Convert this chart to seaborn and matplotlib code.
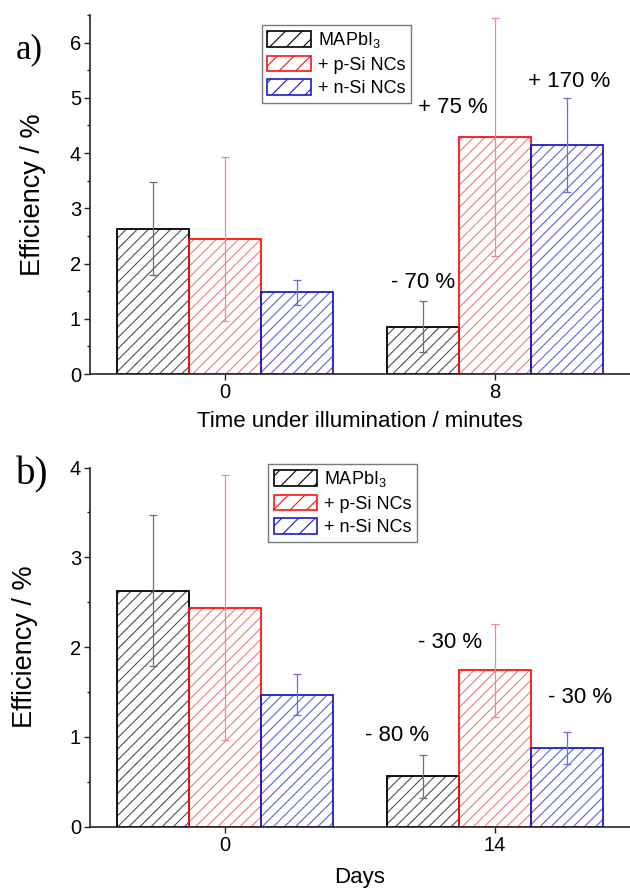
import matplotlib
matplotlib.use("Agg")
import matplotlib.pyplot as plt
import matplotlib.patches as mpatches
from matplotlib.ticker import MultipleLocator
import seaborn as sns
import pandas as pd

# ---- data -------------------------------------------------------------
series = ["MAPbI$_3$", "+ p-Si NCs", "+ n-Si NCs"]

illum_minutes = ["0", "8"]
illum_eff = {
    "MAPbI$_3$": [2.63, 0.86],
    "+ p-Si NCs": [2.44, 4.29],
    "+ n-Si NCs": [1.48, 4.14],
}
illum_err = {
    "MAPbI$_3$": [0.84, 0.47],
    "+ p-Si NCs": [1.48, 2.15],
    "+ n-Si NCs": [0.23, 0.85],
}
illum_notes = ["- 70 %", "+ 75 %", "+ 170 %"]

age_days = ["0", "14"]
age_eff = {
    "MAPbI$_3$": [2.63, 0.56],
    "+ p-Si NCs": [2.44, 1.74],
    "+ n-Si NCs": [1.47, 0.88],
}
age_err = {
    "MAPbI$_3$": [0.84, 0.24],
    "+ p-Si NCs": [1.48, 0.52],
    "+ n-Si NCs": [0.23, 0.18],
}
age_notes = ["- 80 %", "- 30 %", "- 30 %"]

# ---- style ------------------------------------------------------------
edge_colors = {"MAPbI$_3$": "#000000", "+ p-Si NCs": "#ff1010", "+ n-Si NCs": "#1c1cc8"}
hatch_colors = {"MAPbI$_3$": "#505050", "+ p-Si NCs": "#ee7a7a", "+ n-Si NCs": "#6060da"}
err_colors = {"MAPbI$_3$": "#6e6e6e", "+ p-Si NCs": "#f28a8a", "+ n-Si NCs": "#6a6ae4"}

sns.set_theme(style="ticks")
plt.rcParams["font.family"] = ["Liberation Sans", "DejaVu Sans"]
plt.rcParams["mathtext.default"] = "regular"
plt.rcParams["hatch.linewidth"] = 0.8
plt.rcParams["axes.linewidth"] = 1.2
plt.rcParams["text.color"] = "black"
plt.rcParams["axes.labelcolor"] = "black"
plt.rcParams["xtick.labelcolor"] = "black"
plt.rcParams["ytick.labelcolor"] = "black"

fig = plt.figure(figsize=(6.3, 8.88), dpi=100)
ax_a = fig.add_axes([90 / 630, 1 - 374 / 888, 540 / 630, 359 / 888])
ax_b = fig.add_axes([90 / 630, 1 - 826.7 / 888, 540 / 630, 359.2 / 888])


def long_table(cats, values, xname):
    rows = []
    for s in series:
        for c, v in zip(cats, values[s]):
            rows.append({xname: c, "series": s, "eff": v})
    return pd.DataFrame(rows)


def draw_panel(ax, cats, values, errors, xname, xlabel, ymax):
    df = long_table(cats, values, xname)
    sns.barplot(data=df, x=xname, y="eff", hue="series", hue_order=series,
                order=cats, palette=["white"] * 3, width=0.8, errorbar=None,
                legend=False, ax=ax)
    for s, cont in zip(series, ax.containers):
        for bar, err in zip(cont, errors[s]):
            bar.set_facecolor("white")
            bar.set_edgecolor(hatch_colors[s])
            bar.set_hatch("///")
            bar.set_linewidth(0)
            ax.add_patch(mpatches.Rectangle(
                (bar.get_x(), 0), bar.get_width(), bar.get_height(),
                fill=False, edgecolor=edge_colors[s], linewidth=1.3, zorder=2))
            ax.errorbar(bar.get_x() + bar.get_width() / 2, bar.get_height(),
                        yerr=err, fmt="none", ecolor=err_colors[s],
                        elinewidth=0.9, capsize=2.6, capthick=0.9, zorder=3)

    ax.set_xlim(-0.5, 1.5)
    ax.set_ylim(0, ymax)
    ax.yaxis.set_major_locator(MultipleLocator(1))
    ax.yaxis.set_minor_locator(MultipleLocator(0.5))
    sns.despine(ax=ax)
    ax.tick_params(axis="both", which="major", direction="out", length=4,
                   width=1.0, labelsize=14.5, color="#222222", pad=2.5)
    ax.tick_params(axis="y", which="minor", direction="out", length=2.5, width=1.0)
    ax.set_xlabel(xlabel, fontsize=16, va="top")
    ax.set_ylabel("Efficiency / %", fontsize=19.5)

    handles = [mpatches.Patch(facecolor="white", edgecolor=edge_colors[s],
                              hatch="//", linewidth=1.2, label=s) for s in series]
    return handles


def add_legend(ax, handles, anchor):
    leg = ax.legend(handles=handles, loc="upper left", bbox_to_anchor=anchor,
                    borderaxespad=0, fontsize=13, frameon=True, fancybox=False,
                    edgecolor="#7a7a7a", framealpha=1, handlelength=2.4,
                    handleheight=0.95, handletextpad=0.4, labelspacing=0.3,
                    borderpad=0.3)
    leg.get_frame().set_linewidth(1.0)


h = draw_panel(ax_a, illum_minutes, illum_eff, illum_err, "minutes",
               "Time under illumination / minutes", 6.5)
ax_a.xaxis.set_label_coords(0.5, -0.103)
ax_a.yaxis.set_label_coords(-0.082, 0.5)
add_legend(ax_a, h, (0.3185, 0.972))

for txt, (x, y) in zip(illum_notes, [(0.733, 1.65), (0.844, 4.83), (1.274, 5.30)]):
    ax_a.text(x, y, txt, fontsize=16, ha="center", va="center")

h = draw_panel(ax_b, age_days, age_eff, age_err, "days", "Days", 4)
ax_b.xaxis.set_label_coords(0.5, -0.112)
ax_b.yaxis.set_label_coords(-0.096, 0.5)
add_legend(ax_b, h, (0.330, 1.0097))

for txt, (x, y) in zip(age_notes, [(0.637, 1.02), (0.833, 2.05), (1.315, 1.44)]):
    ax_b.text(x, y, txt, fontsize=16, ha="center", va="center")

fig.text(16 / 630, 1 - 50 / 888, "a)", fontsize=25, ha="left", va="center",
         family=["Liberation Serif", "DejaVu Serif"])
fig.text(16 / 630, 1 - 475 / 888, "b)", fontsize=28, ha="left", va="center",
         family=["Liberation Serif", "DejaVu Serif"])

fig.savefig("out.png", dpi=100, facecolor="white")
